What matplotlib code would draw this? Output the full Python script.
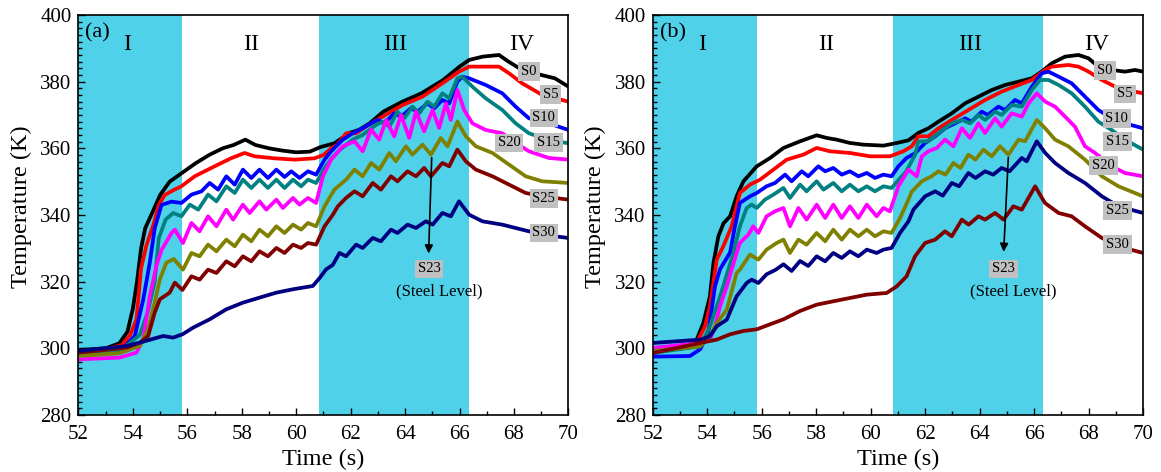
import numpy as np
import matplotlib
matplotlib.use('Agg')
import matplotlib.pyplot as plt
from matplotlib.ticker import MultipleLocator

plt.rcParams['font.family'] = ['Liberation Serif', 'DejaVu Serif']

sensors = ['S0', 'S5', 'S10', 'S15', 'S20', 'S23', 'S25', 'S30']
regions = ['I', 'II', 'III', 'IV']
region_x = [53.8, 58.35, 63.65, 68.28]
shade_spans = [(52.0, 55.82), (60.82, 66.33)]

# ---------------- panel (a) ----------------
a_t_S0 = [52.0, 53.0, 53.5, 53.8, 54.0, 54.15, 54.3, 54.45, 54.7, 55.0, 55.35, 55.8, 56.3, 56.8, 57.3, 57.7,
          58.13, 58.5, 59.0, 59.5, 60.0, 60.5, 60.9, 61.4, 61.95, 62.3, 62.7, 63.2, 63.9, 64.6, 65.4, 66.0,
          66.35, 66.85, 67.45, 67.8, 68.3, 69.0, 69.5, 70.0]
a_T_S0 = [299.5, 300.0, 301.5, 305.0, 312.0, 320.0, 330.0, 336.0, 340.5, 346.0, 350.0, 352.6, 355.5, 358.0, 360.0, 361.0,
          362.6, 361.0, 360.0, 359.3, 358.8, 359.0, 360.4, 361.5, 364.6, 365.5, 367.5, 371.0, 374.0, 376.5, 380.5, 384.5,
          386.5, 387.5, 388.0, 386.0, 383.5, 382.0, 381.0, 378.5]

a_t_S5 = [52.0, 53.0, 53.6, 53.9, 54.13, 54.3, 54.5, 54.75, 54.95, 55.17, 55.5, 55.78, 56.27, 57.0, 57.6, 58.1,
          58.47, 59.2, 59.94, 60.67, 61.0, 61.28, 61.5, 61.83, 62.2, 62.56, 63.17, 63.91, 64.64, 65.37, 65.98,
          66.35, 67.45, 67.82, 68.3, 69.04, 70.0]
a_T_S5 = [299.0, 299.8, 301.0, 304.0, 308.7, 324.0, 331.0, 337.0, 343.0, 346.0, 347.5, 348.6, 351.6, 354.6, 357.0, 358.6,
          357.6, 357.0, 356.6, 357.0, 358.0, 360.0, 361.0, 364.5, 364.5, 366.5, 369.5, 373.0, 375.5, 379.5, 383.0,
          384.5, 384.5, 382.5, 379.5, 376.0, 374.0]

a_t_S10 = [52.0, 53.5, 54.07, 54.38, 54.62, 54.8, 55.05, 55.42, 55.78, 56.15, 56.52, 56.82, 57.13, 57.43, 57.74,
           58.04, 58.35, 58.65, 58.96, 59.27, 59.57, 59.82, 60.12, 60.43, 60.73, 61.04, 61.28, 61.71, 62.07, 62.44,
           62.75, 63.0, 63.24, 63.6, 63.85, 64.21, 64.46, 64.82, 65.07, 65.37, 65.62, 65.92, 66.1, 66.35, 66.96,
           67.57, 68.06, 68.55, 69.28, 70.0]
a_T_S10 = [298.0, 298.8, 303.7, 314.7, 325.7, 336.0, 343.0, 344.0, 343.6, 346.1, 347.1, 349.6, 347.6, 351.6, 349.1,
           353.6, 351.1, 353.6, 351.1, 353.6, 351.4, 353.1, 351.1, 353.1, 352.1, 356.6, 359.1, 362.6, 364.5, 366.0,
           367.5, 368.5, 367.5, 370.5, 369.5, 372.0, 371.0, 373.5, 372.0, 374.5, 373.5, 380.0, 381.5, 381.0, 379.0,
           376.5, 372.5, 369.0, 367.5, 365.5]

a_t_S15 = [52.0, 53.5, 54.25, 54.55, 54.8, 54.95, 55.2, 55.48, 55.78, 56.09, 56.4, 56.76, 57.07, 57.43, 57.74,
           58.04, 58.35, 58.65, 58.96, 59.27, 59.57, 59.88, 60.18, 60.43, 60.73, 61.04, 61.3, 61.6, 62.07, 62.44,
           62.93, 63.17, 63.42, 63.72, 63.97, 64.27, 64.52, 64.82, 65.07, 65.37, 65.62, 65.92, 66.1, 66.47, 66.96,
           67.57, 68.06, 68.55, 69.28, 70.0]
a_T_S15 = [298.5, 299.0, 304.0, 311.0, 320.0, 333.0, 338.6, 340.6, 339.6, 343.1, 341.6, 346.1, 344.1, 348.6, 346.6,
           350.6, 348.1, 350.6, 348.1, 350.6, 348.1, 350.6, 348.6, 350.6, 349.6, 354.0, 357.0, 359.5, 362.6, 364.0,
           367.0, 368.0, 366.5, 371.0, 369.0, 372.5, 370.5, 374.0, 372.5, 376.5, 375.0, 381.0, 381.5, 378.5, 375.0,
           371.5, 367.5, 364.5, 362.5, 361.5]

a_t_S20 = [52.0, 53.5, 54.13, 54.38, 54.62, 54.87, 55.05, 55.42, 55.54, 55.84, 56.15, 56.45, 56.76, 57.07, 57.43,
           57.68, 58.04, 58.29, 58.65, 58.9, 59.27, 59.51, 59.88, 60.12, 60.43, 60.73, 60.98, 61.28, 61.71, 62.14,
           62.44, 62.75, 63.05, 63.3, 63.6, 63.85, 64.15, 64.4, 64.7, 65.01, 65.25, 65.5, 65.68, 65.92, 66.17,
           66.47, 66.96, 67.57, 68.06, 68.55, 69.28, 70.0]
a_T_S20 = [296.7, 297.2, 298.7, 302.7, 315.6, 325.0, 329.5, 334.6, 335.6, 331.6, 337.6, 335.1, 339.6, 336.6, 341.6,
           338.6, 343.1, 340.6, 344.1, 341.6, 344.6, 342.1, 345.1, 343.1, 345.1, 343.6, 351.6, 356.6, 360.6, 362.1,
           359.1, 365.6, 362.6, 368.5, 363.6, 370.0, 363.1, 371.0, 365.1, 371.5, 366.1, 373.5, 368.5, 377.5, 371.5,
           367.5, 365.5, 364.5, 361.6, 359.1, 357.1, 356.6]

a_t_S23 = [52.0, 53.5, 54.25, 54.56, 54.8, 54.99, 55.23, 55.5, 55.84, 56.15, 56.45, 56.76, 57.07, 57.43, 57.74,
           58.04, 58.35, 58.65, 58.96, 59.27, 59.57, 59.88, 60.18, 60.43, 60.73, 61.04, 61.4, 61.83, 62.14, 62.44,
           62.75, 63.05, 63.42, 63.66, 64.03, 64.27, 64.64, 64.95, 65.31, 65.56, 65.92, 66.23, 66.6, 67.21, 67.82,
           68.43, 69.04, 70.0]
a_T_S23 = [297.7, 298.5, 300.7, 305.7, 313.7, 320.7, 325.7, 326.8, 323.6, 328.6, 327.6, 331.1, 329.1, 332.6, 330.6,
           334.1, 332.1, 335.6, 333.6, 336.6, 334.6, 337.1, 335.6, 337.6, 336.6, 342.6, 347.6, 350.6, 353.6, 351.6,
           355.6, 353.6, 358.6, 356.1, 360.6, 358.1, 361.1, 358.1, 363.1, 360.6, 368.0, 363.6, 360.6, 358.6, 355.1,
           351.6, 350.1, 349.6]

a_t_S25 = [52.0, 53.77, 54.25, 54.56, 54.8, 54.99, 55.35, 55.54, 55.82, 56.15, 56.45, 56.76, 57.07, 57.43, 57.74,
           58.04, 58.35, 58.65, 58.96, 59.27, 59.57, 59.88, 60.18, 60.43, 60.73, 61.04, 61.34, 61.53, 61.83, 62.14,
           62.44, 62.81, 63.11, 63.48, 63.72, 64.09, 64.4, 64.7, 64.95, 65.37, 65.62, 65.92, 66.23, 66.6, 67.21,
           67.82, 68.43, 69.04, 70.0]
a_T_S25 = [298.7, 300.2, 301.7, 303.7, 310.7, 314.7, 316.7, 319.7, 317.5, 321.6, 320.6, 323.6, 322.6, 326.1, 324.6,
           327.6, 326.1, 329.1, 327.6, 330.1, 328.6, 331.1, 330.1, 331.6, 331.1, 336.6, 340.0, 342.6, 345.1, 347.1,
           345.6, 349.6, 347.6, 351.6, 350.1, 353.1, 351.6, 354.1, 351.6, 355.6, 354.6, 359.6, 356.1, 353.6, 351.6,
           349.1, 346.6, 345.6, 344.6]

a_t_S30 = [52.0, 53.77, 54.25, 54.68, 55.11, 55.47, 55.82, 56.21, 56.82, 57.43, 58.04, 58.65, 59.27, 59.87, 60.61,
           60.85, 61.1, 61.34, 61.59, 61.83, 62.2, 62.44, 62.81, 63.11, 63.48, 63.72, 64.09, 64.4, 64.76, 65.01,
           65.37, 65.68, 65.98, 66.35, 66.84, 67.57, 68.3, 69.04, 70.0]
a_T_S30 = [299.2, 300.7, 301.7, 302.7, 303.7, 303.2, 304.2, 306.2, 308.7, 311.7, 313.7, 315.2, 316.7, 317.7, 318.7,
           321.0, 323.7, 325.0, 328.6, 327.6, 331.1, 330.1, 333.1, 332.1, 335.6, 334.6, 337.1, 336.1, 338.1, 337.1,
           340.6, 339.6, 344.1, 340.1, 338.1, 337.1, 335.6, 334.1, 333.1]

# ---------------- panel (b) ----------------
b_t_S0 = [52.0, 53.0, 53.4, 53.62, 53.86, 54.1, 54.23, 54.41, 54.6, 54.84, 55.08, 55.33, 55.82, 56.31, 56.8, 57.41,
          58.02, 58.39, 58.75, 59.24, 59.73, 60.47, 60.96, 61.39, 61.75, 62.12, 62.49, 62.98, 63.47, 63.96, 64.45,
          64.94, 65.43, 65.92, 66.28, 66.65, 67.14, 67.63, 68.0, 68.36, 68.85, 69.34, 69.71, 70.0]
b_T_S0 = [299.6, 300.0, 301.0, 302.7, 307.6, 315.6, 325.6, 333.6, 337.5, 339.6, 345.6, 350.1, 354.6, 357.1, 360.1, 362.1,
          363.9, 363.1, 362.6, 361.6, 361.1, 360.8, 361.6, 362.4, 364.6, 366.0, 368.0, 370.5, 373.5, 375.5, 377.5,
          379.0, 380.0, 381.0, 383.0, 385.5, 387.5, 388.0, 387.0, 384.5, 383.5, 383.0, 383.5, 383.0]

b_t_S5 = [52.0, 53.61, 53.92, 54.1, 54.35, 54.59, 54.9, 55.2, 55.57, 55.94, 56.43, 56.92, 57.53, 58.02, 58.51, 59.24,
          59.98, 60.71, 61.2, 61.51, 61.75, 62.12, 62.49, 62.98, 63.59, 64.2, 64.81, 65.43, 65.92, 66.4, 66.65,
          67.26, 67.63, 68.0, 68.49, 69.1, 70.0]
b_T_S5 = [298.6, 301.6, 306.6, 312.6, 326.6, 330.6, 336.6, 346.6, 349.1, 350.6, 353.6, 356.6, 358.1, 360.1, 359.1, 358.6,
          357.6, 357.6, 359.1, 360.6, 363.6, 363.6, 366.0, 368.5, 371.5, 374.5, 377.0, 379.0, 380.5, 383.5, 384.5,
          385.0, 384.5, 383.0, 380.5, 378.0, 376.5]

b_t_S10 = [52.0, 53.37, 53.74, 54.04, 54.29, 54.47, 54.84, 55.02, 55.2, 55.57, 55.82, 56.18, 56.49, 56.86, 57.1,
           57.47, 57.71, 58.08, 58.33, 58.63, 58.94, 59.24, 59.55, 59.86, 60.16, 60.47, 60.77, 61.02, 61.32, 61.63,
           62.0, 62.37, 62.73, 63.1, 63.47, 63.7, 64.08, 64.3, 64.69, 64.94, 65.3, 65.55, 65.92, 66.28, 66.53,
           66.9, 67.38, 67.87, 68.36, 68.85, 69.34, 70.0]
b_T_S10 = [297.5, 297.7, 299.7, 304.7, 318.7, 323.7, 328.7, 336.6, 343.6, 345.6, 346.6, 348.6, 349.6, 352.1, 350.1,
           353.1, 351.6, 354.6, 353.1, 354.1, 352.1, 353.1, 351.6, 352.6, 351.1, 352.1, 351.6, 354.6, 357.1, 358.5,
           361.6, 363.6, 366.0, 367.5, 369.0, 368.0, 371.0, 370.0, 372.5, 371.5, 374.5, 373.5, 378.5, 382.5, 383.0,
           381.5, 379.5, 375.5, 371.5, 369.0, 367.5, 366.0]

b_t_S15 = [52.0, 53.74, 54.1, 54.35, 54.59, 54.96, 55.2, 55.45, 55.63, 55.82, 56.12, 56.43, 56.8, 57.04, 57.41,
           57.65, 58.02, 58.27, 58.63, 58.94, 59.24, 59.55, 59.86, 60.16, 60.47, 60.77, 61.08, 61.3, 61.63, 61.75,
           62.12, 62.49, 62.98, 63.35, 63.65, 63.96, 64.2, 64.57, 64.81, 65.18, 65.55, 65.92, 66.22, 66.53, 66.9,
           67.38, 67.87, 68.36, 68.85, 69.34, 70.0]
b_T_S15 = [298.6, 300.6, 306.6, 312.6, 318.6, 328.6, 336.6, 342.1, 343.1, 342.1, 344.6, 346.1, 348.1, 345.1, 349.1,
           347.1, 350.1, 347.6, 349.6, 347.1, 349.1, 347.1, 348.6, 347.1, 348.6, 348.1, 351.0, 353.0, 358.0, 362.0,
           362.1, 364.6, 367.5, 368.5, 367.5, 370.0, 368.5, 371.0, 370.0, 373.0, 372.5, 377.5, 380.5, 380.5, 379.0,
           376.5, 372.5, 368.0, 365.5, 362.6, 359.6]

b_t_S20 = [52.0, 53.74, 54.1, 54.29, 54.47, 54.72, 55.08, 55.2, 55.51, 55.69, 55.88, 56.18, 56.49, 56.8, 57.04,
           57.35, 57.65, 58.02, 58.33, 58.63, 58.94, 59.24, 59.55, 59.86, 60.22, 60.47, 60.71, 61.02, 61.39, 61.69,
           61.88, 62.12, 62.43, 62.73, 63.04, 63.35, 63.65, 63.96, 64.2, 64.57, 64.81, 65.18, 65.55, 65.8, 66.1,
           66.41, 66.77, 67.14, 67.5, 67.87, 68.24, 68.85, 69.34, 70.0]
b_T_S20 = [300.1, 301.6, 302.6, 306.6, 312.6, 318.6, 328.6, 331.6, 334.1, 336.6, 334.6, 339.6, 341.1, 342.1, 336.6,
           342.1, 338.6, 343.1, 339.1, 343.1, 339.1, 342.6, 339.1, 343.1, 339.6, 342.1, 341.1, 348.6, 353.6, 351.6,
           357.6, 359.1, 360.1, 362.6, 360.6, 366.0, 363.1, 367.5, 364.6, 369.0, 366.5, 370.5, 369.5, 373.5, 376.5,
           374.0, 372.5, 369.5, 366.5, 360.6, 358.6, 354.6, 352.6, 351.6]

b_t_S23 = [52.0, 53.74, 54.1, 54.35, 54.72, 55.08, 55.2, 55.57, 55.88, 56.18, 56.55, 56.8, 57.04, 57.35, 57.65,
           58.02, 58.33, 58.63, 58.94, 59.24, 59.55, 59.86, 60.16, 60.47, 60.77, 61.08, 61.39, 61.51, 61.88, 62.24,
           62.49, 62.75, 63.04, 63.3, 63.59, 63.85, 64.14, 64.45, 64.75, 65.06, 65.43, 65.67, 66.1, 66.41, 66.77,
           67.26, 67.87, 68.49, 69.1, 70.0]
b_T_S23 = [299.2, 300.6, 303.6, 307.6, 311.6, 322.6, 323.6, 328.1, 326.6, 329.6, 331.6, 332.6, 328.6, 332.6, 331.1,
           334.6, 332.1, 335.6, 332.6, 335.6, 333.6, 335.6, 333.6, 335.1, 334.6, 339.1, 344.6, 347.0, 350.1, 351.6,
           353.1, 352.1, 355.6, 354.1, 358.1, 356.6, 359.6, 357.6, 360.6, 358.1, 362.6, 362.1, 368.5, 366.0, 362.6,
           360.6, 356.6, 351.6, 348.6, 345.6]

b_t_S25 = [52.0, 53.74, 54.1, 54.35, 54.72, 55.08, 55.45, 55.63, 55.88, 56.18, 56.5, 56.8, 57.1, 57.41, 57.71,
           58.02, 58.33, 58.63, 58.94, 59.24, 59.55, 59.86, 60.22, 60.47, 60.77, 61.08, 61.39, 61.57, 62.0, 62.37,
           62.65, 62.98, 63.25, 63.59, 63.85, 64.2, 64.5, 64.81, 65.1, 65.55, 65.73, 66.1, 66.41, 66.77, 67.26,
           67.87, 68.49, 69.1, 70.0]
b_T_S25 = [301.6, 302.6, 303.6, 306.6, 308.6, 315.6, 319.6, 320.6, 319.6, 322.2, 323.5, 325.2, 323.2, 326.2, 324.7,
           327.6, 326.1, 328.6, 327.1, 329.1, 327.6, 329.6, 328.6, 329.6, 330.1, 334.6, 338.1, 341.6, 345.6, 347.1,
           345.8, 349.6, 348.6, 352.6, 351.1, 353.1, 352.1, 354.1, 353.1, 357.1, 356.1, 362.1, 358.6, 355.6, 352.6,
           349.6, 345.6, 342.6, 340.6]

b_t_S30 = [52.0, 53.74, 54.35, 54.84, 55.33, 55.82, 56.31, 56.8, 57.41, 58.02, 58.63, 59.24, 59.86, 60.59, 60.96,
           61.32, 61.63, 62.0, 62.37, 62.73, 62.98, 63.35, 63.6, 63.96, 64.2, 64.57, 64.88, 65.24, 65.55, 66.04,
           66.4, 66.9, 67.38, 67.87, 68.49, 69.1, 70.0]
b_T_S30 = [298.6, 301.6, 302.6, 304.2, 305.2, 305.7, 307.2, 308.7, 311.2, 313.1, 314.1, 315.1, 316.1, 316.6, 318.6,
           321.6, 327.6, 331.6, 332.6, 335.1, 333.6, 338.6, 337.1, 339.6, 338.6, 340.6, 338.6, 342.6, 341.6, 348.6,
           343.6, 340.6, 339.6, 336.6, 333.1, 330.6, 328.6]

a_colors = ['black', '#FF0000', '#0000FF', '#008080', '#FF00FF', '#808000', '#800000', '#000080']
b_colors = ['black', '#FF0000', '#0000FF', '#008080', '#FF00FF', '#808000', '#000080', '#800000']

a_series = [(a_t_S0, a_T_S0), (a_t_S5, a_T_S5), (a_t_S10, a_T_S10), (a_t_S15, a_T_S15),
            (a_t_S20, a_T_S20), (a_t_S23, a_T_S23), (a_t_S25, a_T_S25), (a_t_S30, a_T_S30)]
b_series = [(b_t_S0, b_T_S0), (b_t_S5, b_T_S5), (b_t_S10, b_T_S10), (b_t_S15, b_T_S15),
            (b_t_S20, b_T_S20), (b_t_S23, b_T_S23), (b_t_S25, b_T_S25), (b_t_S30, b_T_S30)]

# label box positions (x, y) for each sensor name, skipping S23 which gets the arrow
a_label_pos = {'S0': (68.55, 383.0), 'S5': (69.35, 376.2), 'S10': (69.1, 369.1), 'S15': (69.26, 361.8),
               'S20': (67.82, 361.6), 'S25': (69.1, 344.9), 'S30': (69.1, 334.6)}
b_label_pos = {'S0': (68.61, 383.3), 'S5': (69.34, 376.3), 'S10': (69.04, 369.0), 'S15': (69.06, 362.1),
               'S20': (68.55, 354.8), 'S25': (69.06, 341.4), 'S30': (69.06, 331.1)}

fig = plt.figure(figsize=(11.61, 4.72), dpi=100)
ax_a = fig.add_axes([0.0676, 0.1208, 0.422, 0.8475])
ax_b = fig.add_axes([0.5622, 0.1208, 0.4223, 0.8475])

panels = [(ax_a, a_series, a_colors, a_label_pos, '(a)', (64.98, 358.0), (64.86, 327.6)),
          (ax_b, b_series, b_colors, b_label_pos, '(b)', (65.06, 358.1), (64.88, 328.1))]

for ax, series, colors, label_pos, tag, arr_start, arr_end in panels:
    for x0, x1 in shade_spans:
        ax.axvspan(x0, x1, color='#4FD1EA', lw=0, zorder=0)
    for (t, T), c in zip(series, colors):
        ax.plot(t, T, color=c, lw=2.7, solid_joinstyle='round', solid_capstyle='round', zorder=2)

    ax.set_xlim(52, 70)
    ax.set_ylim(280, 400)
    ax.xaxis.set_major_locator(MultipleLocator(2))
    ax.xaxis.set_minor_locator(MultipleLocator(1))
    ax.yaxis.set_major_locator(MultipleLocator(20))
    ax.yaxis.set_minor_locator(MultipleLocator(2))
    ax.tick_params(which='both', direction='in', top=False, right=False, labelsize=15)
    ax.tick_params(axis='x', which='major', pad=7)
    ax.tick_params(axis='y', which='major', pad=5)
    ax.tick_params(which='major', length=5, width=1)
    ax.tick_params(which='minor', length=3, width=1)
    ax.set_xlabel('Time (s)', fontsize=17.5, labelpad=4)
    ax.set_ylabel('Temperature (K)', fontsize=17.5)
    ax.yaxis.set_label_coords(-0.095, 0.52)
    for s in ax.spines.values():
        s.set_linewidth(1.2)

    ax.text(52.25, 394.5, tag, fontsize=16, va='center', ha='left')
    for name, xr in zip(regions, region_x):
        ax.text(xr, 391.0, name, fontsize=17, ha='center', va='center')

    for name, (lx, ly) in label_pos.items():
        ax.text(lx, ly, name, fontsize=10.5, ha='center', va='center', zorder=5,
                bbox=dict(boxstyle='square,pad=0.2', fc='#C0C0C0', ec='none'))

    ax.annotate('', xy=arr_end, xytext=arr_start,
                arrowprops=dict(arrowstyle='-|>', color='black', lw=1.2, mutation_scale=12), zorder=5)
    ax.text(64.88, 323.8, 'S23', fontsize=10.5, ha='center', va='center', zorder=5,
            bbox=dict(boxstyle='square,pad=0.2', fc='#C0C0C0', ec='none'))
    ax.text(65.25, 317.2, '(Steel Level)', fontsize=12, ha='center', va='center', zorder=5)

fig.savefig('out.png', dpi=100)
